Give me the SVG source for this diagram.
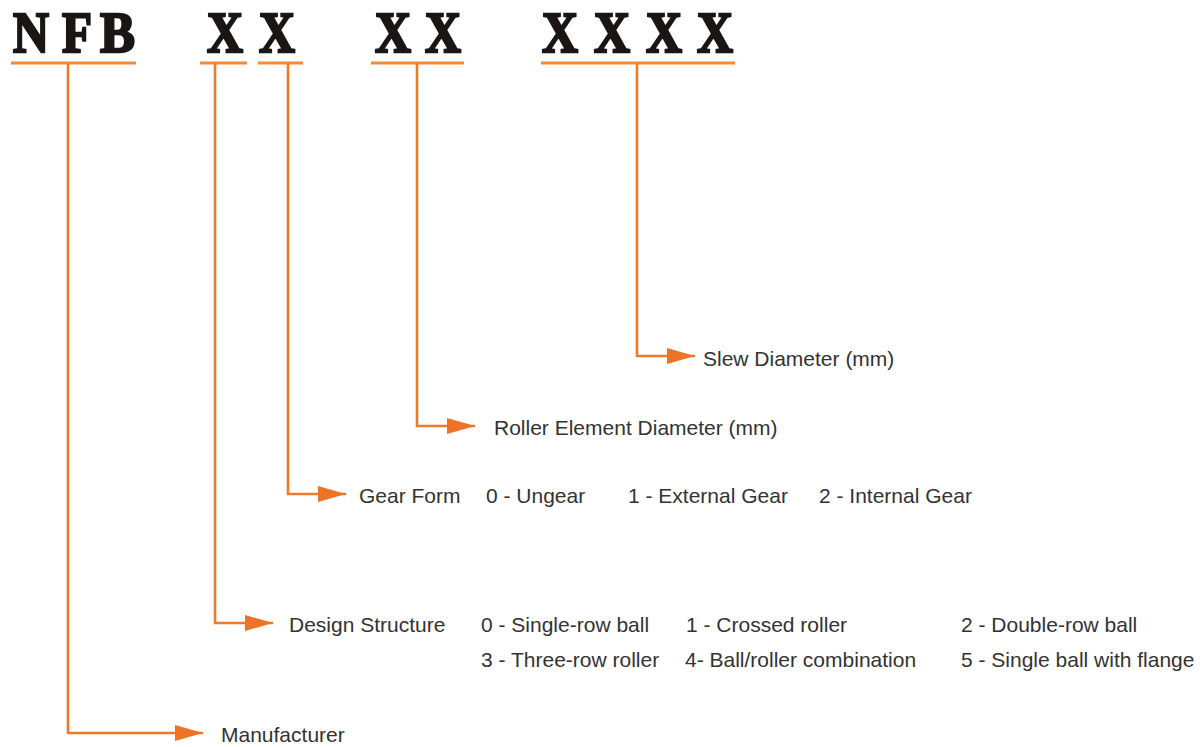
<svg xmlns="http://www.w3.org/2000/svg" width="1200" height="747" viewBox="0 0 1200 747">
  <defs>
    <marker id="arr" markerUnits="userSpaceOnUse" markerWidth="30" markerHeight="18" refX="28" refY="8" orient="auto">
      <path d="M0,0 L28,8 L0,16 Z" fill="#EE7326"/>
    </marker>
    <style>
      .code{font-family:"Liberation Serif",serif;font-weight:bold;font-size:58px;fill:#1b1616;stroke:#1b1616;stroke-width:2.4;stroke-linejoin:miter}
      .lbl{font-family:"Liberation Sans",Arial,sans-serif;font-size:21px;fill:#333333}
      .ul{stroke:#F08A3C;stroke-width:3;fill:none}
      .conn{stroke:#EE7A2A;stroke-width:2.6;fill:none;marker-end:url(#arr)}
    </style>
  </defs>
  <rect width="1200" height="747" fill="#ffffff"/>

  <g id="code">
    <text class="code" x="13" y="52" textLength="36" lengthAdjust="spacingAndGlyphs">N</text>
    <text class="code" x="62" y="52" textLength="30" lengthAdjust="spacingAndGlyphs">F</text>
    <text class="code" x="100" y="52" textLength="35" lengthAdjust="spacingAndGlyphs">B</text>
    <text class="code" x="207" y="52" textLength="36" lengthAdjust="spacingAndGlyphs">X</text>
    <text class="code" x="259" y="52" textLength="36" lengthAdjust="spacingAndGlyphs">X</text>
    <text class="code" x="375" y="52" textLength="36" lengthAdjust="spacingAndGlyphs">X</text>
    <text class="code" x="425" y="52" textLength="36" lengthAdjust="spacingAndGlyphs">X</text>
    <text class="code" x="542" y="52" textLength="36" lengthAdjust="spacingAndGlyphs">X</text>
    <text class="code" x="594" y="52" textLength="36" lengthAdjust="spacingAndGlyphs">X</text>
    <text class="code" x="646" y="52" textLength="36" lengthAdjust="spacingAndGlyphs">X</text>
    <text class="code" x="697" y="52" textLength="36" lengthAdjust="spacingAndGlyphs">X</text>
  </g>

  <g id="connectors">
    <path class="ul" d="M11,63 H136"/>
    <path class="ul" d="M200,63 H247"/>
    <path class="ul" d="M258,63 H303"/>
    <path class="ul" d="M371,63 H464"/>
    <path class="ul" d="M541,63 H735"/>
    <path class="conn" d="M68,63 V733 H203"/>
    <path class="conn" d="M215,63 V623 H273"/>
    <path class="conn" d="M288,63 V494 H346"/>
    <path class="conn" d="M417,63 V426 H475"/>
    <path class="conn" d="M637,63 V356 H695"/>
  </g>

  <g id="slew">
    <text class="lbl" x="703" y="366">Slew Diameter (mm)</text>
  </g>
  <g id="roller">
    <text class="lbl" x="494" y="435">Roller Element Diameter (mm)</text>
  </g>
  <g id="gear">
    <text class="lbl" x="359" y="503">Gear Form</text>
    <text class="lbl" x="486" y="503">0 - Ungear</text>
    <text class="lbl" x="628" y="503">1 - External Gear</text>
    <text class="lbl" x="819" y="503">2 - Internal Gear</text>
  </g>
  <g id="design">
    <text class="lbl" x="289" y="632">Design Structure</text>
    <text class="lbl" x="481" y="632">0 - Single-row ball</text>
    <text class="lbl" x="686" y="632">1 - Crossed roller</text>
    <text class="lbl" x="961" y="632">2 - Double-row ball</text>
    <text class="lbl" x="481" y="667">3 - Three-row roller</text>
    <text class="lbl" x="685" y="667">4- Ball/roller combination</text>
    <text class="lbl" x="961" y="667">5 - Single ball with flange</text>
  </g>
  <g id="manufacturer">
    <text class="lbl" x="221" y="742">Manufacturer</text>
  </g>
</svg>
